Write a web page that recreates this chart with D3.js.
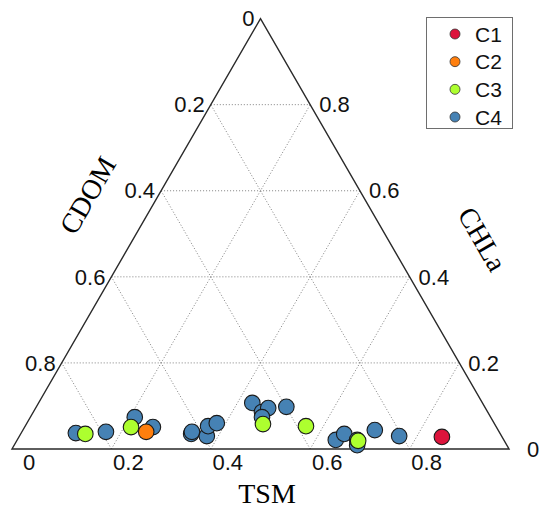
<!DOCTYPE html>
<html>
<head>
<meta charset="utf-8">
<script src="https://cdn.jsdelivr.net/npm/d3@7"></script>
<style>
  html, body { margin: 0; padding: 0; background: #fff; }
  svg { display: block; }
</style>
</head>
<body>
<svg id="chart" width="540" height="511"></svg>
<script>
// Sample composition (fractions of TSM and CHLa; CDOM is the remainder)
const tsm  = [0.110, 0.169, 0.210, 0.258, 0.343, 0.342, 0.377, 0.368, 0.382, 0.430, 0.460, 0.468, 0.466, 0.503,
              0.641, 0.651, 0.690, 0.684, 0.708, 0.764,
              0.130, 0.214, 0.476, 0.565, 0.687,
              0.250, 0.851];
const chla = [0.037, 0.040, 0.074, 0.051, 0.035, 0.040, 0.030, 0.053, 0.060, 0.107, 0.086, 0.095, 0.074, 0.098,
              0.021, 0.035, 0.009, 0.021, 0.044, 0.030,
              0.035, 0.051, 0.058, 0.053, 0.019,
              0.040, 0.028];
const pointClass = ["C4","C4","C4","C4","C4","C4","C4","C4","C4","C4","C4","C4","C4","C4",
                    "C4","C4","C4","C4","C4","C4",
                    "C3","C3","C3","C3","C3",
                    "C2","C1"];
const cdom = tsm.map((t, i) => 1 - t - chla[i]);

const legendLabels = ["C1", "C2", "C3", "C4"];
const gridValues = [0.2, 0.4, 0.6, 0.8];
const tickValues = [0, 0.2, 0.4, 0.6, 0.8];
const tickText = ["0", "0.2", "0.4", "0.6", "0.8"];

const colorOf = { C1: "#dc143c", C2: "#ff7f0e", C3: "#adff2f", C4: "#4682b4" };

const svg = d3.select("#chart");

// Bottom edge scale and height scale of the equilateral triangle
const xs = d3.scaleLinear().domain([0, 1]).range([12, 509]);
const side = 497;
const ys = d3.scaleLinear().domain([0, 1]).range([449, 449 - side * Math.sqrt(3) / 2]);

// (tsm, chla) -> screen
function proj(t, c) { return [xs(t + c / 2), ys(c)]; }

// Grid
const grid = svg.append("g")
  .attr("fill", "none").attr("stroke", "#808080").attr("stroke-width", 1)
  .attr("stroke-dasharray", "1,2");
const gridLines = [];
gridValues.forEach(v => {
  gridLines.push([proj(0, v), proj(1 - v, v)]);        // CHLa = v
  gridLines.push([proj(v, 0), proj(v, 1 - v)]);        // TSM = v
  gridLines.push([proj(1 - v, 0), proj(0, 1 - v)]);    // CDOM = v
});
grid.selectAll("line").data(gridLines).join("line")
  .attr("x1", d => d[0][0]).attr("y1", d => d[0][1])
  .attr("x2", d => d[1][0]).attr("y2", d => d[1][1]);

// Triangle outline
const tri = [proj(0, 0), proj(1, 0), proj(0, 1)];
svg.append("path")
  .attr("d", d3.line()(tri) + "Z")
  .attr("fill", "none").attr("stroke", "#2a2a2a").attr("stroke-width", 1.4);

// Tick labels
const tickFont = "'Liberation Sans', Arial, sans-serif";
const ticks = svg.append("g").attr("font-family", tickFont).attr("font-size", 22).attr("fill", "#111");

// TSM along bottom
ticks.selectAll("text.tsm").data(tickValues).join("text").attr("class", "tsm")
  .attr("x", v => proj(v, 0)[0] + 17)
  .attr("y", v => proj(v, 0)[1] + 21)
  .attr("text-anchor", "middle")
  .text((v, i) => tickText[i]);

// CDOM along left edge
ticks.selectAll("text.cdom").data(tickValues).join("text").attr("class", "cdom")
  .attr("x", v => proj(0, 1 - v)[0] - 6)
  .attr("y", v => proj(0, 1 - v)[1])
  .attr("dy", "0.35em")
  .attr("text-anchor", "end")
  .text((v, i) => tickText[i]);

// CHLa along right edge
ticks.selectAll("text.chla").data(tickValues).join("text").attr("class", "chla")
  .attr("x", v => proj(1 - v, v)[0] + (v === 0 ? 18 : 9))
  .attr("y", v => proj(1 - v, v)[1])
  .attr("dy", "0.35em")
  .attr("text-anchor", "start")
  .text((v, i) => tickText[i]);

// Axis titles
const titleFont = "'Liberation Serif', 'Times New Roman', serif";
svg.append("text")
  .attr("font-family", titleFont).attr("font-size", 28).attr("text-anchor", "middle")
  .attr("x", 267).attr("y", 503).text("TSM");
svg.append("text")
  .attr("font-family", titleFont).attr("font-size", 28).attr("text-anchor", "middle")
  .attr("transform", "translate(96,200) rotate(-60)").text("CDOM");
svg.append("text")
  .attr("font-family", titleFont).attr("font-size", 28).attr("text-anchor", "middle")
  .attr("transform", "translate(474,244) rotate(60)").text("CHLa");

// Points, drawn so the rarer classes sit on top
const order = ["C4", "C3", "C2", "C1"];
const pts = tsm.map((t, i) => ({ t, c: chla[i], d: cdom[i], k: pointClass[i] }))
  .sort((a, b) => order.indexOf(a.k) - order.indexOf(b.k));
svg.append("g").selectAll("circle").data(pts).join("circle")
  .attr("cx", p => proj(p.t, p.c)[0])
  .attr("cy", p => proj(p.t, p.c)[1])
  .attr("r", 7.8)
  .attr("fill", p => colorOf[p.k])
  .attr("stroke", "#1a1a1a").attr("stroke-width", 1.1);

// Legend
const lg = svg.append("g");
lg.append("rect").attr("x", 426.5).attr("y", 17.5).attr("width", 86).attr("height", 111)
  .attr("fill", "#fff").attr("stroke", "#6e6e6e").attr("stroke-width", 1);
const ly = d3.scalePoint().domain(legendLabels).range([34, 117]);
lg.selectAll("circle").data(legendLabels).join("circle")
  .attr("cx", 455).attr("cy", d => ly(d)).attr("r", 5)
  .attr("fill", d => colorOf[d]).attr("stroke", "#333").attr("stroke-width", 0.8);
lg.selectAll("text").data(legendLabels).join("text")
  .attr("x", 475).attr("y", d => ly(d)).attr("dy", "0.36em")
  .attr("font-family", tickFont).attr("font-size", 21).attr("fill", "#111")
  .text(d => d);
</script>
</body>
</html>
